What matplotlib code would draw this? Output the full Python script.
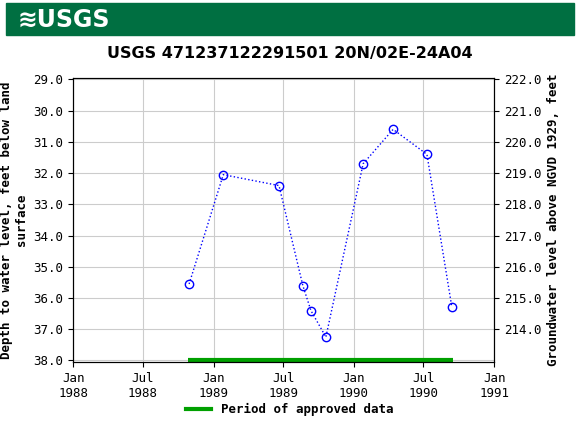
import matplotlib
matplotlib.use("Agg")
import matplotlib.pyplot as plt
import matplotlib.dates as mdates
from matplotlib.patches import Rectangle
import datetime as dt

dates = ["1988-10-29","1989-01-26","1989-06-20","1989-08-21","1989-09-11",
         "1989-10-20","1990-01-25","1990-04-13","1990-07-10","1990-09-13"]
depths = [35.55, 32.05, 32.4, 35.6, 36.4, 37.25, 31.7, 30.6, 31.4, 36.3]
approved = ["1988-10-25", "1990-09-15"]
xticks = ["1988-01-01","1988-07-01","1989-01-01","1989-07-01","1990-01-01","1990-07-01","1991-01-01"]
xlabels = ["Jan\n1988","Jul\n1988","Jan\n1989","Jul\n1989","Jan\n1990","Jul\n1990","Jan\n1991"]
yticks = [29,30,31,32,33,34,35,36,37,38]
datum = 251.0

P = lambda s: dt.datetime.strptime(s, "%Y-%m-%d")
font = "DejaVu Sans Mono"
fig = plt.figure(figsize=(5.8, 4.3), dpi=100)
fig.patches.append(Rectangle((0.01, 0.918), 0.98, 0.075, transform=fig.transFigure, color="#006F41"))
fig.text(0.03, 0.955, "≋USGS", color="white", fontsize=17, fontweight="bold", va="center", family="DejaVu Sans")
fig.text(0.5, 0.875, "USGS 471237122291501 20N/02E-24A04", ha="center", va="center", fontsize=11.5, fontweight="bold", family="DejaVu Sans")

ax = fig.add_axes([0.126, 0.158, 0.726, 0.661])
xs = [P(d) for d in dates]
ax.plot(xs, depths, linestyle=":", color="blue", lw=1, marker="o", mfc="none", mec="blue", ms=6)
ax.plot([P(a) for a in approved], [38.0, 38.0], color="#00A000", lw=3, solid_capstyle="butt")
ax.set_xlim(P(xticks[0]), P(xticks[-1]))
ax.set_ylim(38.05, 28.95)
ax.set_xticks([P(t) for t in xticks])
ax.set_xticklabels(xlabels, family=font, fontsize=9)
ax.set_yticks(yticks)
ax.set_yticklabels([f"{v:.1f}" for v in yticks], family=font, fontsize=9)
ax.grid(True, color="#cccccc", lw=0.8)
ax.set_ylabel("Depth to water level, feet below land\nsurface", family=font, fontsize=9, fontweight="bold")
ax2 = ax.twinx()
ax2.set_ylim(datum - 38.05, datum - 28.95)
rt = [214,215,216,217,218,219,220,221,222]
ax2.set_yticks(rt)
ax2.set_yticklabels([f"{v:.1f}" for v in rt], family=font, fontsize=9)
ax2.set_ylabel("Groundwater level above NGVD 1929, feet", family=font, fontsize=9, fontweight="bold")
leg_line = plt.Line2D([], [], color="#00A000", lw=3)
fig.legend([leg_line], ["Period of approved data"], loc="center", bbox_to_anchor=(0.5, 0.048), frameon=False,
           prop={"family": font, "size": 9, "weight": "bold"})
fig.savefig("out.png", dpi=100)
